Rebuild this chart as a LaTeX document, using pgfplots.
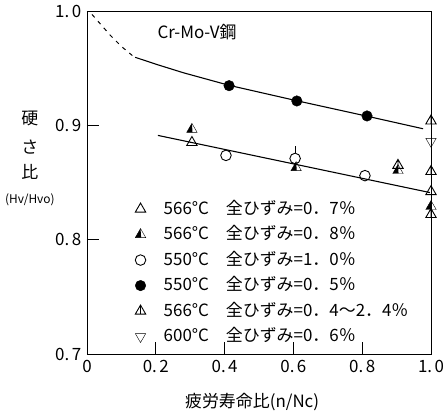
\documentclass[border=0pt]{standalone}
\usepackage{pgfplots}
\pgfplotsset{compat=1.18}
\usepackage{fontspec}
\setmainfont{Noto Sans CJK JP}

% half-filled triangle: left half black
\pgfdeclareplotmark{halftri}{%
  \pgfpathmoveto{\pgfpoint{0pt}{\pgfplotmarksize}}%
  \pgfpathlineto{\pgfpoint{-0.866\pgfplotmarksize}{-0.5\pgfplotmarksize}}%
  \pgfpathlineto{\pgfpoint{0.1\pgfplotmarksize}{-0.5\pgfplotmarksize}}%
  \pgfpathclose
  \pgfusepathqfill
  \pgfpathmoveto{\pgfpoint{0pt}{\pgfplotmarksize}}%
  \pgfpathlineto{\pgfpoint{-0.866\pgfplotmarksize}{-0.5\pgfplotmarksize}}%
  \pgfpathlineto{\pgfpoint{0.866\pgfplotmarksize}{-0.5\pgfplotmarksize}}%
  \pgfpathclose
  \pgfusepathqstroke
}
% triangle with a vertical stroke inside
\pgfdeclareplotmark{linetri}{%
  \pgfpathmoveto{\pgfpoint{0pt}{\pgfplotmarksize}}%
  \pgfpathlineto{\pgfpoint{-0.866\pgfplotmarksize}{-0.5\pgfplotmarksize}}%
  \pgfpathlineto{\pgfpoint{0.866\pgfplotmarksize}{-0.5\pgfplotmarksize}}%
  \pgfpathclose
  \pgfpathmoveto{\pgfpoint{0pt}{\pgfplotmarksize}}%
  \pgfpathlineto{\pgfpoint{0pt}{-0.5\pgfplotmarksize}}%
  \pgfusepathqstroke
}

\begin{document}
\fontsize{17}{20}\selectfont
\begin{tikzpicture}
\begin{axis}[
    at={(0,0)}, anchor=south west,
    width=344bp, height=343bp, scale only axis,
    xmin=0, xmax=1.0, ymin=0.7, ymax=1.0,
    clip=false,
    axis line style={line width=1pt},
    tick align=inside, xtick pos=bottom, ytick pos=left,
    major tick length=12bp,
    tick style={line width=0.8pt, black},
    xtick={0,0.2,0.4,0.6,0.8,1.0},
    xticklabels={0,0.\hspace{2.5pt}2,0.\hspace{2.5pt}4,0.\hspace{2.5pt}6,0.\hspace{2.5pt}8,1.\hspace{2.5pt}0},
    ytick={0.7,0.8,0.9,1.0},
    yticklabels={0.\hspace{2.5pt}7,0.\hspace{2.5pt}8,0.\hspace{2.5pt}9,1.\hspace{2.5pt}0},
    /pgf/number format/assume math mode=true,
    xlabel={疲労寿命比(n/Nc)},
    xlabel style={at={(axis description cs:0.48,-0.14)}, anchor=center},
    ylabel={硬\\[9pt]さ\\[6pt]比\\[5pt]{\fontsize{12}{14}\selectfont(Hv/Hvo)}},
    ylabel style={rotate=-90, align=center, at={(axis description cs:-0.166,0.57)}, anchor=center},
    legend style={at={(axis description cs:0.131,0.458)}, anchor=north west,
        draw=none, fill=none, row sep=5.6pt,
        /tikz/every odd column/.append style={column sep=17pt},
        nodes={inner sep=1pt, text height=14pt, text depth=4pt}},
    legend cell align=left,
    mark options={line width=0.9pt, solid},
]
% fitted curves
\addplot[forget plot, line width=1pt, dash pattern=on 4pt off 5pt] coordinates {
    (0.0145,0.997) (0.035,0.990) (0.067,0.979) (0.10,0.969) (0.134,0.9605)
};
\addplot[forget plot, line width=1.1pt] coordinates {
    (0.14,0.9595) (0.2,0.9535) (0.28,0.946) (0.413,0.935) (0.61,0.9215) (0.814,0.908) (0.977,0.897)
};
\addplot[forget plot, line width=1.1pt] coordinates {
    (0.206,0.8912) (0.997,0.8412)
};
\addplot[forget plot, line width=0.9pt] coordinates {
    (0.605,0.876) (0.605,0.8815)
};

% 566C 0.7%
\addplot[only marks, mark=triangle, mark size=6pt] coordinates {
    (0.305,0.885) (1.0,0.842)
};
% 566C 0.8%
\addplot[only marks, mark=halftri, mark size=6pt, mark options={fill=black}] coordinates {
    (0.305,0.8965) (0.608,0.863) (0.904,0.8605) (1.0,0.829)
};
% 550C 1.0%
\addplot[only marks, mark=o, mark size=5.3pt] coordinates {
    (0.404,0.8737) (0.605,0.871) (0.808,0.856)
};
% 550C 0.5%
\addplot[only marks, mark=*, mark size=5.3pt, mark options={fill=black}] coordinates {
    (0.413,0.9347) (0.610,0.9213) (0.814,0.9082)
};
% 566C 0.4-2.4%
\addplot[only marks, mark=linetri, mark size=6pt] coordinates {
    (0.904,0.865) (1.0,0.9038) (1.0,0.8596) (1.0,0.822)
};
% 600C 0.6%
\addplot[only marks, mark=triangle, mark size=6pt, mark options={rotate=180}] coordinates {
    (1.0,0.886)
};
\legend{566°C\quad 全ひずみ=0．7％, 566°C\quad 全ひずみ=0．8％, 550°C\quad 全ひずみ=1．0％,
        550°C\quad 全ひずみ=0．5％, 566°C\quad 全ひずみ=0．4〜2．4％, 600°C\quad 全ひずみ=0．6％}

\node at (rel axis cs:0.32,0.94) {Cr-Mo-V鋼};
\end{axis}
\pgfresetboundingbox
\path (-87bp,-60bp) rectangle (356bp,354bp);
\end{tikzpicture}
\end{document}
